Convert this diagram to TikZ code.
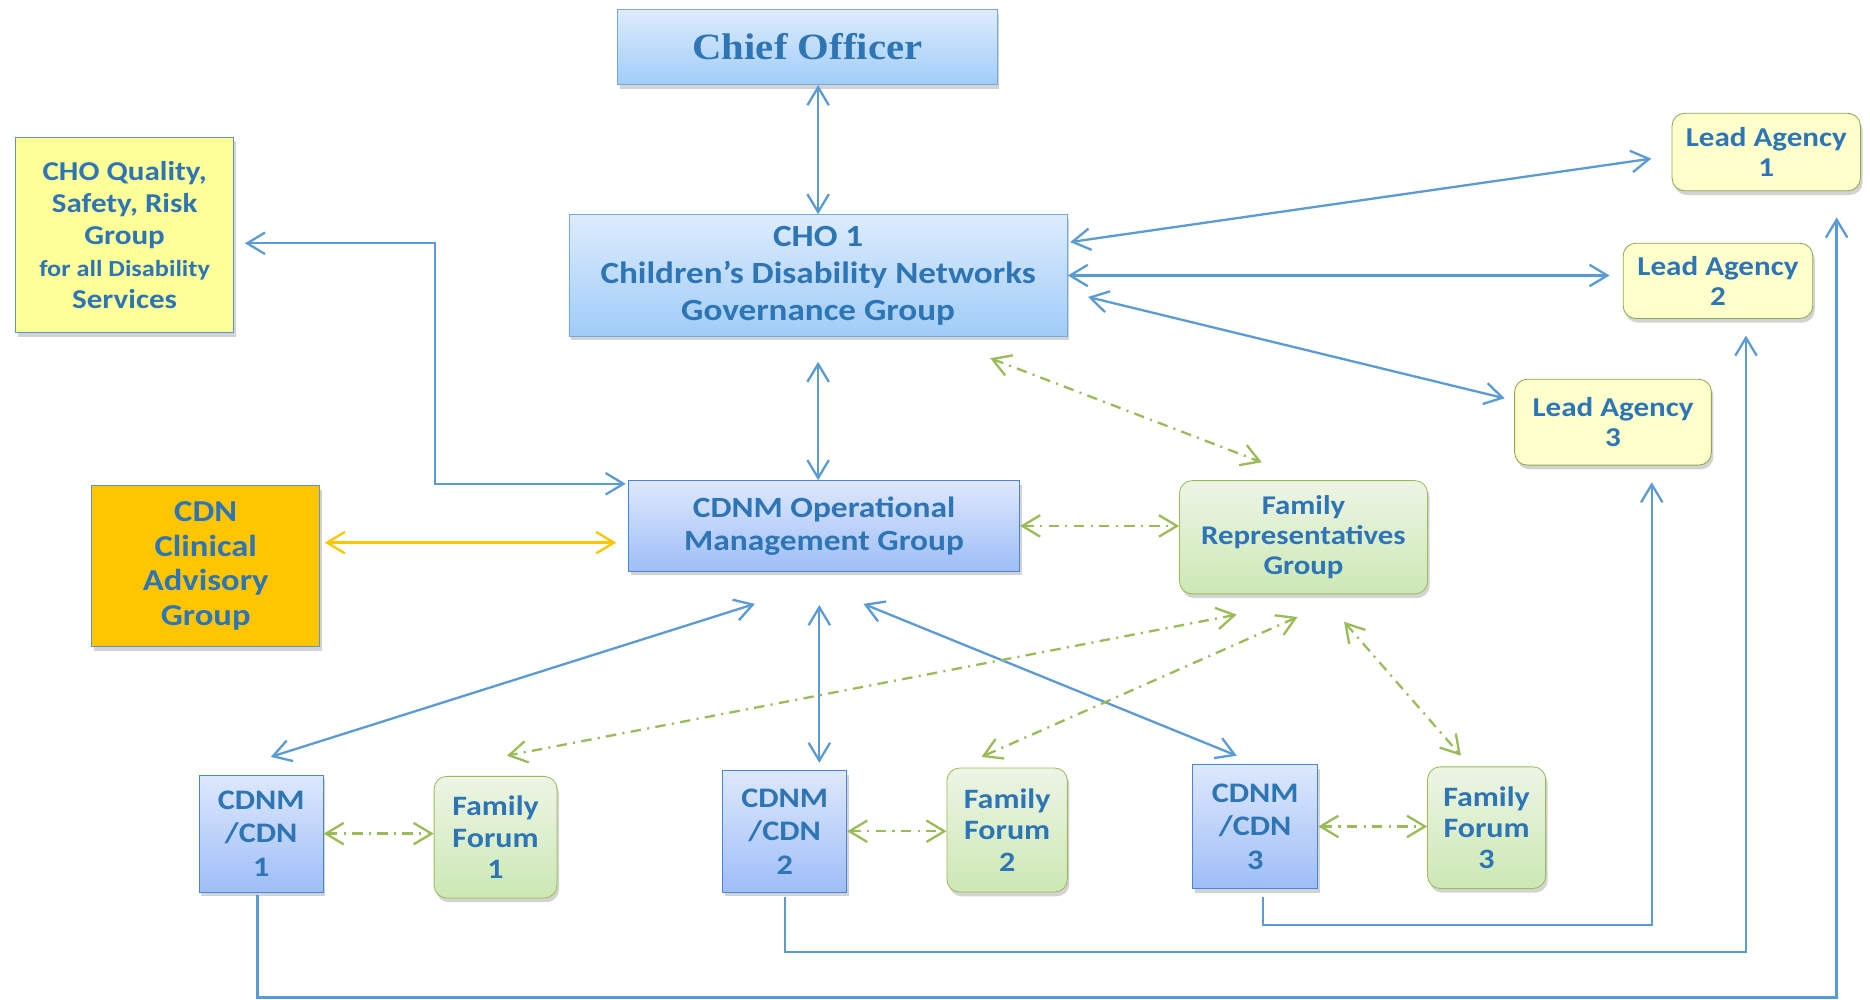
\documentclass[tikz,border=0pt]{standalone}
\usepackage{fontspec}
\setmainfont{Carlito}[FakeStretch=1.14]
\newfontfamily\officerfont{Liberation Serif}[FakeStretch=1.1]
\usepackage{xcolor}
\usetikzlibrary{arrows.meta,shadows,positioning}
\definecolor{textblue}{RGB}{46,117,182}
\definecolor{lineblue}{RGB}{91,155,213}
\definecolor{famgreen}{RGB}{155,187,89}
\definecolor{advorange}{RGB}{255,197,0}
\definecolor{govtop}{RGB}{221,236,253}
\definecolor{govbot}{RGB}{160,204,248}
\definecolor{opstop}{RGB}{222,232,253}
\definecolor{opsbot}{RGB}{158,190,247}
\definecolor{famtop}{RGB}{237,245,229}
\definecolor{fambot}{RGB}{204,232,180}
\definecolor{qualyellow}{RGB}{255,255,153}
\definecolor{leadyellow}{RGB}{255,255,204}

\begin{document}
\begin{tikzpicture}[x=0.02cm,y=-0.02cm,
	box/.style={draw,rectangle,align=center,text=textblue,inner sep=1pt,
		drop shadow={shadow xshift=1pt,shadow yshift=-2pt,opacity=0.35}},
	govbox/.style={box,draw=lineblue!85,top color=govtop,bottom color=govbot},
	opsbox/.style={box,draw=lineblue!85!blue,top color=opstop,bottom color=opsbot},
	famgbox/.style={box,rounded corners=6pt,draw=famgreen,top color=famtop,bottom color=fambot},
	leadbox/.style={box,rounded corners=6pt,draw=famgreen!90!black,fill=leadyellow},
	link/.style={lineblue,line width=1.1pt,{Straight Barb[length=3mm,width=3.6mm]}-{Straight Barb[length=3mm,width=3.6mm]}},
	feed/.style={lineblue,line width=1.1pt,-{Straight Barb[length=3mm,width=3.6mm]}},
	famlink/.style={famgreen,line width=1.1pt,dash pattern=on 5pt off 3pt on 1pt off 3pt,{Straight Barb[length=3mm,width=3.6mm]}-{Straight Barb[length=3mm,width=3.6mm]}},
	advlink/.style={advorange,line width=1.1pt,{Straight Barb[length=3mm,width=3.6mm]}-{Straight Barb[length=3mm,width=3.6mm]}}]

	\useasboundingbox (0,0) rectangle (1568,838);

	% Top of the governance chain
	\node[govbox,minimum width=6.36cm,minimum height=1.26cm,font=\officerfont\fontsize{17.7}{20}\selectfont\bfseries] (chief) at (677,39.5) {Chief Officer};
	\node[govbox,minimum width=8.36cm,minimum height=2.04cm,font=\fontsize{14.7}{17.6}\selectfont\bfseries] (cho) at (686,231) {CHO 1\\Children’s Disability Networks\\Governance Group};

	% Quality group
	\node[box,draw=lineblue!80!gray,fill=qualyellow,minimum width=3.66cm,minimum height=3.28cm,font=\fontsize{13}{15.3}\selectfont\bfseries] (quality) at (104.5,197) {CHO Quality,\\Safety, Risk\\Group\\\fontsize{11}{13}\selectfont for all Disability\\Services};

	% Lead agencies
	\node[leadbox,minimum width=3.16cm,minimum height=1.3cm,font=\fontsize{13}{14}\selectfont\bfseries] (la1) at (1481,127.5) {Lead Agency\\1};
	\node[leadbox,minimum width=3.18cm,minimum height=1.26cm,font=\fontsize{13}{14}\selectfont\bfseries] (la2) at (1440.5,235.5) {Lead Agency\\2};
	\node[leadbox,minimum width=3.3cm,minimum height=1.44cm,font=\fontsize{13}{14}\selectfont\bfseries] (la3) at (1352.5,354) {Lead Agency\\3};

	% Middle row
	\node[box,draw=lineblue!80!gray,fill=advorange,minimum width=3.82cm,minimum height=2.7cm,font=\fontsize{14.5}{16.5}\selectfont\bfseries] (clinical) at (172.5,474.5) {CDN\\Clinical\\Advisory\\Group};
	\node[opsbox,minimum width=6.56cm,minimum height=1.52cm,font=\fontsize{14}{16}\selectfont\bfseries] (ops) at (691,441) {CDNM Operational\\Management Group};
	\node[famgbox,minimum width=4.16cm,minimum height=1.9cm,font=\fontsize{12.9}{14.2}\selectfont\bfseries] (famrep) at (1093,450.5) {Family\\Representatives\\Group};

	% Networks and forums
	\node[opsbox,minimum width=2.08cm,minimum height=1.96cm,font=\fontsize{13.5}{16}\selectfont\bfseries] (cdn1) at (219,699) {CDNM\\/CDN\\1};
	\node[famgbox,minimum width=2.06cm,minimum height=2.04cm,font=\fontsize{13.4}{15}\selectfont\bfseries] (ff1) at (415.5,702) {Family\\Forum\\1};
	\node[opsbox,minimum width=2.08cm,minimum height=2.04cm,font=\fontsize{13.5}{16}\selectfont\bfseries] (cdn2) at (658,697) {CDNM\\/CDN\\2};
	\node[famgbox,minimum width=2.02cm,minimum height=2.08cm,font=\fontsize{13.4}{15}\selectfont\bfseries] (ff2) at (844.5,696) {Family\\Forum\\2};
	\node[opsbox,minimum width=2.1cm,minimum height=2.08cm,font=\fontsize{13.5}{16}\selectfont\bfseries] (cdn3) at (1052.5,693) {CDNM\\/CDN\\3};
	\node[famgbox,minimum width=1.98cm,minimum height=2.04cm,font=\fontsize{13.4}{15}\selectfont\bfseries] (ff3) at (1246.5,694) {Family\\Forum\\3};

	% Connectors from the governance group
	\draw[link] (chief.south -| cho.north) -- (cho.north);
	\draw[link,shorten <=0.42cm] (cho.south) -- (cho.south |- ops.north);
	\draw[link] ([shift={(9,7)}]quality.east) -- (365,204) |- ([shift={(-2,3)}]ops.north west);
	\draw[link] ([shift={(2,-28)}]cho.east) -- ([shift={(-17,5.5)}]la1.west);
	\draw[link] (cho.east) -- ([xshift=-0.22cm]la2.west |- cho.east);
	\draw[link] ([shift={(17,18)}]cho.east) -- ([shift={(-8,-20)}]la3.west);
	\draw[famlink] ([shift={(-65,18)}]cho.south east) -- ([shift={(-35,-15)}]famrep.north);

	% Connectors from the operational group
	\draw[advlink] ([shift={(4,-19.5)}]clinical.east) -- ([shift={(-10,14)}]ops.west);
	\draw[famlink] (ops.east) -- (ops.east -| famrep.west);
	\draw[link] ([shift={(-58,27)}]ops.south) -- ([shift={(8,-15)}]cdn1.north);
	\draw[link] ([shift={(-4,28)}]ops.south) -- ([shift={(29,-6)}]cdn2.north);
	\draw[link] ([shift={(33,27)}]ops.south) -- ([shift={(-15.5,-7)}]cdn3.north);

	% Family links
	\draw[famlink] ([shift={(-56,17)}]famrep.south) -- ([shift={(9.5,-17)}]ff1.north);
	\draw[famlink] ([shift={(-5,19)}]famrep.south) -- ([shift={(-21.5,-9)}]ff2.north);
	\draw[famlink] ([shift={(34,23)}]famrep.south) -- ([shift={(-21.5,-9)}]ff3.north);
	\draw[famlink] (cdn1.east) -- (cdn1.east -| ff1.west);
	\draw[famlink] (cdn2.east) -- (cdn2.east -| ff2.west);
	\draw[famlink] (cdn3.east) -- (cdn3.east -| ff3.west);

	% Networks feeding the lead agencies
	\draw[feed] ([shift={(6.5,7)}]cdn3.south) -- ++(0,23) -| ([shift={(32.5,14)}]la3.south);
	\draw[feed] ([shift={(0,4)}]cdn2.south) -- ++(0,46) -| ([shift={(23.5,14)}]la2.south);
	\draw[feed] ([shift={(-3,2)}]cdn1.south) -- ++(0,86) -| ([shift={(59,22)}]la1.south);

\end{tikzpicture}
\end{document}
